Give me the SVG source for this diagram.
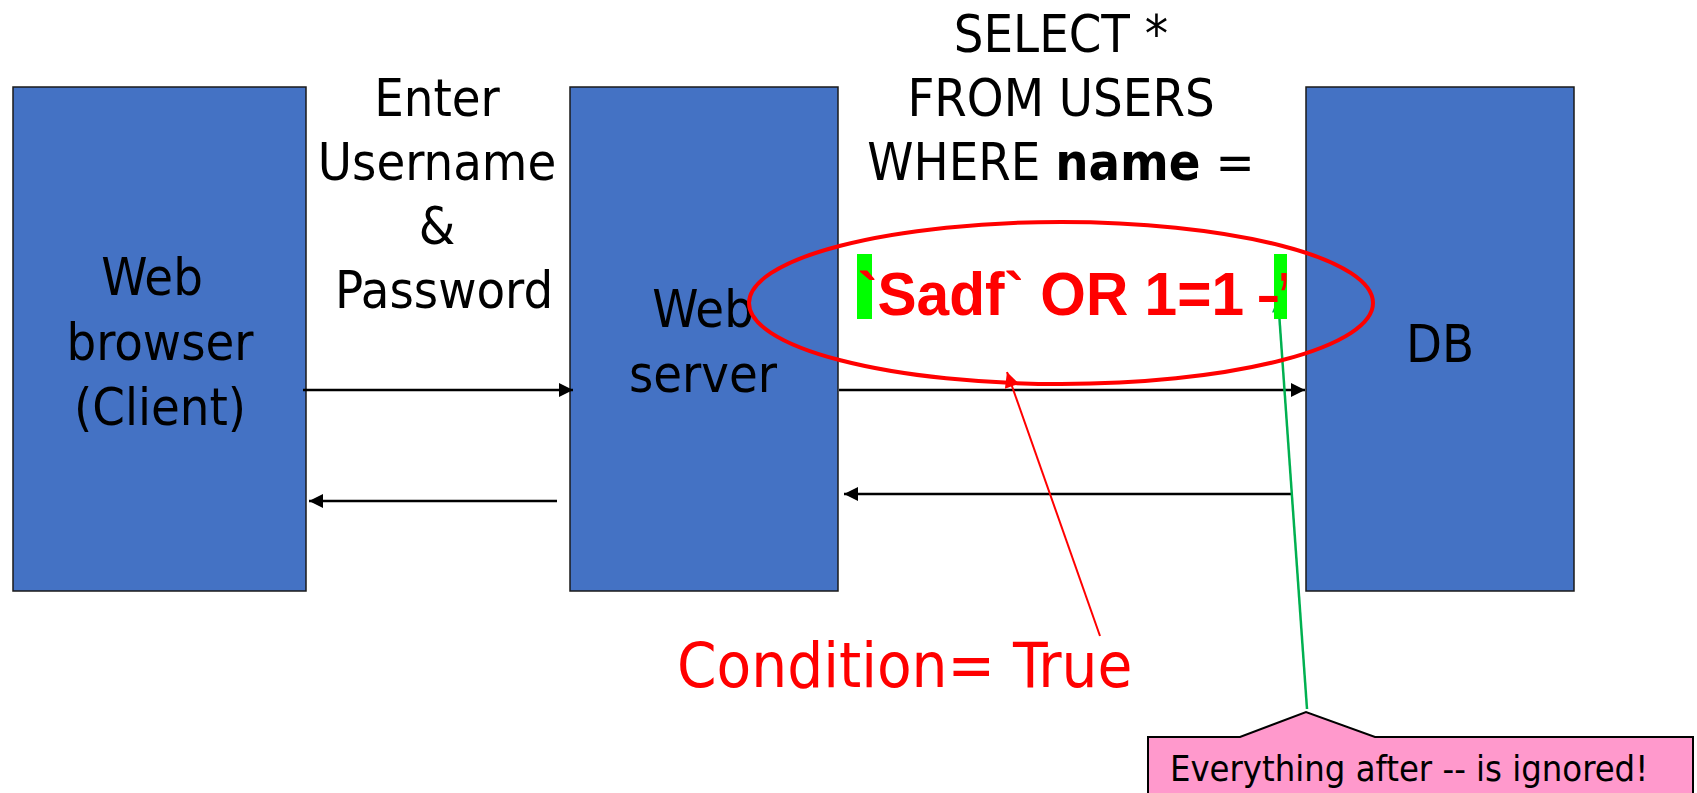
<svg xmlns="http://www.w3.org/2000/svg" width="1697" height="793" viewBox="0 0 1697 793">
  <style>
    .box { fill: #4472C4; stroke: #1a1a1a; stroke-width: 1.5; }
    .lbl { font-family: "DejaVu Sans Condensed", "DejaVu Sans", sans-serif; font-size: 52px; fill: #000; text-anchor: middle; }
    .flow { stroke: #000; stroke-width: 2.5; fill: none; marker-end: url(#ah); }
    .inj { font-family: "Liberation Sans", Arial, sans-serif; font-size: 62px; font-weight: bold; fill: #FF0000; }
  </style>
  <defs>
    <marker id="ah" viewBox="0 0 10 10" refX="10" refY="5" markerWidth="15" markerHeight="14" markerUnits="userSpaceOnUse" orient="auto">
      <path d="M0,0 L10,5 L0,10 Z" fill="#000"/>
    </marker>
    <marker id="ahRed" viewBox="0 0 10 10" refX="10" refY="5" markerWidth="16" markerHeight="15" markerUnits="userSpaceOnUse" orient="auto">
      <path d="M0,0 L10,5 L0,10 Z" fill="#FF0000"/>
    </marker>
    <marker id="ahGreen" viewBox="0 0 10 10" refX="10" refY="5" markerWidth="16" markerHeight="14" markerUnits="userSpaceOnUse" orient="auto">
      <path d="M0,0 L10,5 L0,10 Z" fill="#00B050"/>
    </marker>
  </defs>

  <rect width="1697" height="793" fill="#fff"/>

  <g id="client">
    <rect class="box" x="13" y="87" width="293" height="504"/>
    <text class="lbl" x="152" y="295">Web</text>
    <text class="lbl" x="160" y="360">browser</text>
    <text class="lbl" x="160" y="425">(Client)</text>
  </g>

  <g id="webserver">
    <rect class="box" x="570" y="87" width="268" height="504"/>
    <text class="lbl" x="703" y="327">Web</text>
    <text class="lbl" x="703" y="392">server</text>
  </g>

  <g id="db">
    <rect class="box" x="1306" y="87" width="268" height="504"/>
    <text class="lbl" x="1440" y="362">DB</text>
  </g>

  <g id="connectors">
    <line class="flow" x1="303" y1="390" x2="573" y2="390"/>
    <line class="flow" x1="557" y1="501" x2="309" y2="501"/>
    <line class="flow" x1="839" y1="390" x2="1305" y2="390"/>
    <line class="flow" x1="1293" y1="494" x2="844" y2="494"/>
    <line x1="1100" y1="636" x2="1007" y2="372" stroke="#FF0000" stroke-width="2" marker-end="url(#ahRed)"/>
    <line x1="1307" y1="709" x2="1278" y2="298" stroke="#00B050" stroke-width="2.5" marker-end="url(#ahGreen)"/>
  </g>

  <g id="request-label">
    <text class="lbl" x="437" y="116">Enter</text>
    <text class="lbl" x="437" y="180">Username</text>
    <text class="lbl" x="437" y="244">&amp;</text>
    <text class="lbl" x="444" y="308">Password</text>
  </g>

  <g id="query-label">
    <text class="lbl" x="1061" y="52">SELECT *</text>
    <text class="lbl" x="1061" y="116">FROM USERS</text>
    <text class="lbl" x="1061" y="180">WHERE <tspan font-weight="bold">name</tspan> =</text>
  </g>

  <g id="injection">
    <rect x="857" y="254" width="15" height="65" fill="#00FF00"/>
    <rect x="1274" y="254" width="13" height="65" fill="#00FF00"/>
    <text class="inj" x="858" y="315"><tspan textLength="386" lengthAdjust="spacingAndGlyphs">`Sadf` OR 1=1</tspan><tspan x="1258" textLength="31" lengthAdjust="spacingAndGlyphs">–’</tspan></text>
    <ellipse cx="1061" cy="303" rx="312" ry="81" fill="none" stroke="#FF0000" stroke-width="4"/>
  </g>

  <g id="condition">
    <text x="677" y="687" font-family="DejaVu Sans Condensed, DejaVu Sans, sans-serif" font-size="63" fill="#FF0000">Condition= True</text>
  </g>

  <g id="callout">
    <path d="M1148,737 L1240,737 L1306,712 L1375,737 L1693,737 L1693,800 L1148,800 Z" fill="#FF99CC" stroke="#000" stroke-width="2"/>
    <text x="1170" y="781" font-family="DejaVu Sans Condensed, DejaVu Sans, sans-serif" font-size="36" fill="#000">Everything after -- is ignored!</text>
  </g>
</svg>
